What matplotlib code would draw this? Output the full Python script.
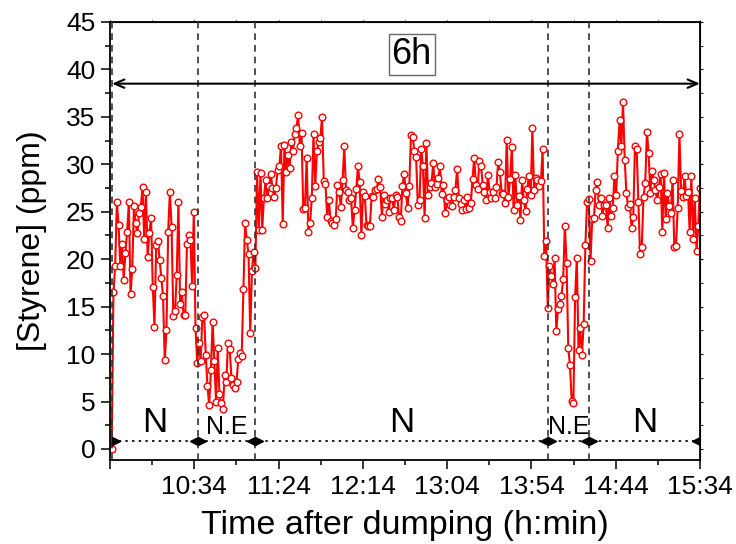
import numpy as np
import matplotlib.pyplot as plt
from matplotlib.ticker import MultipleLocator

plt.rcParams['font.family'] = ['Liberation Sans', 'DejaVu Sans']

# styrene readings, one per sampling step (~1 min)
styrene = [
    0, 0,
    16.5, 19.3, 26.0, 23.6, 19.3, 21.6, 17.8, 20.7, 22.9, 26.0,
    16.3, 19.0, 25.6, 23.8, 22.8, 24.9, 25.5, 27.6, 22.1, 27.1,
    20.2, 22.8, 24.3, 17.1, 12.9, 21.5, 21.9, 19.9, 18.0, 16.1,
    9.4, 12.5, 22.9, 27.1, 23.4, 14.0, 14.5, 18.3, 26.0, 15.3,
    16.5, 14.1, 14.1, 21.6, 22.6, 22.0, 17.2, 25.0, 12.7, 9.1,
    11.2, 9.3, 13.9, 14.1, 9.9, 6.6, 4.6, 8.3, 13.4, 9.3,
    5.0, 10.6, 5.8, 4.8, 4.2, 7.8, 7.1, 11.2, 10.5, 7.5,
    6.7, 6.4, 7.1, 9.5, 10.1, 9.8, 16.9, 23.8, 22.0, 20.5,
    12.2, 18.8, 20.8, 19.1, 29.2, 23.1, 29.1, 23.1, 26.5, 28.3,
    26.4, 27.7, 29.0, 27.5, 26.6, 27.5, 29.4, 29.8, 31.9, 23.7,
    32.0, 29.2, 31.0, 29.6, 32.3, 31.4, 33.2, 33.8, 35.2, 31.9,
    33.3, 25.3, 25.4, 30.7, 22.9, 23.8, 26.5, 33.2, 27.7, 31.4,
    32.3, 32.8, 35.0, 28.2, 27.9, 24.5, 26.2, 24.0, 23.8, 23.6,
    24.2, 27.8, 27.1, 25.5, 28.3, 31.9, 27.3, 27.1, 26.2, 26.4,
    23.3, 25.2, 27.4, 29.8, 28.1, 22.5, 27.1, 26.7, 23.6, 23.5,
    23.5, 26.7, 26.6, 27.3, 27.4, 28.5, 27.6, 24.5, 26.8, 25.8,
    26.2, 25.0, 26.5, 26.4, 25.2, 26.8, 26.6, 24.5, 24.0, 27.7,
    29.0, 27.0, 25.4, 27.7, 33.1, 32.9, 31.4, 30.8, 25.7, 26.2,
    31.6, 29.8, 24.3, 32.2, 26.8, 27.6, 28.0, 30.1, 27.6, 27.9,
    28.6, 29.8, 26.9, 27.8, 24.9, 26.2, 26.6, 25.7, 25.6, 26.6,
    27.3, 29.5, 26.5, 25.8, 25.2, 26.2, 25.3, 26.6, 25.4, 25.9,
    28.5, 30.7, 27.8, 27.4, 30.4, 29.8, 27.8, 27.1, 26.2, 28.9,
    27.1, 26.4, 27.1, 26.4, 27.6, 30.2, 29.2, 27.0, 26.9, 25.9,
    32.6, 26.6, 28.5, 31.8, 25.2, 28.9, 25.7, 26.7, 24.1, 28.3,
    26.2, 25.1, 27.4, 28.8, 26.8, 33.8, 27.3, 28.6, 28.3, 27.7,
    28.2, 31.6, 20.3, 21.9, 14.9, 19.3, 18.2, 17.4, 20.1, 12.4,
    14.8, 15.3, 16.1, 17.9, 23.5, 19.6, 10.6, 8.8, 5.1, 4.9,
    16.0, 20.1, 10.4, 12.7, 9.9, 13.2, 21.5, 26.0, 26.3, 19.8,
    24.2, 24.3, 27.3, 28.1, 25.7, 26.5, 24.6, 25.7, 25.7, 23.3,
    26.4, 24.6, 25.4, 28.8, 26.8, 31.4, 34.7, 31.9, 36.6, 30.5,
    27.0, 25.5, 25.8, 23.3, 24.4, 31.9, 31.6, 26.0, 20.5, 21.3,
    26.6, 28.0, 33.4, 31.2, 27.0, 29.3, 28.3, 27.3, 26.2, 27.6,
    29.0, 22.9, 29.1, 24.2, 27.0, 25.6, 24.9, 28.4, 21.3, 21.4,
    25.4, 33.2, 27.2, 26.6, 28.8, 26.7, 27.1, 22.9, 28.8, 22.1,
    26.4, 20.9, 23.5, 27.5,
]
total_minutes = 350  # 9:44 -> 15:34
minutes = np.arange(len(styrene)) * total_minutes / (len(styrene) - 1)

tick_minutes = [0, 50, 100, 150, 200, 250, 300, 350]
tick_labels = ['', '10:34', '11:24', '12:14', '13:04', '13:54', '14:44', '15:34']

# phase boundaries (minutes after 9:44) and their labels
bounds = [1.2, 52.2, 86.0, 259.8, 284.2, 350]
phase_names = ['N', 'N.E', 'N', 'N.E', 'N']
phase_size = [25, 18, 25, 18, 25]

fig = plt.figure(figsize=(7.36, 5.44), dpi=100)
ax = fig.add_axes([0.1495, 0.1544, 0.8015, 0.8052])

for b in bounds[:-1]:
    ax.axvline(b, color='#333333', ls=(0, (4, 3)), lw=1.2, zorder=3)

ax.plot(minutes, styrene, color='red', lw=1.5, marker='o', ms=4.8,
        mfc='white', mec='red', mew=1.0, zorder=2)

# 6h arrow and box
ax.annotate('', xy=(bounds[0], 38.5), xytext=(bounds[-1], 38.5),
            arrowprops=dict(arrowstyle='<->,head_length=0.7,head_width=0.3',
                            color='black', lw=1.5, shrinkA=0, shrinkB=0))
ax.text(179, 41.6, '6h', fontsize=26, ha='center', va='center',
        bbox=dict(boxstyle='square,pad=0.08', fc='white', ec='#666666', lw=1))

# bottom dotted phase arrows
tri_right = [(0, -1), (0, 1), (2, 0), (0, -1)]
tri_left = [(0, -1), (0, 1), (-2, 0), (0, -1)]
ax.plot([bounds[0], bounds[-1]], [0.8, 0.8], color='black', ls=(0, (1.5, 2.5)),
        lw=1.2, zorder=4)
ax.plot(bounds[:-1], [0.8] * (len(bounds) - 1), ls='none', marker=tri_right,
        ms=11.5, color='black', zorder=5)
ax.plot(bounds[1:], [0.8] * (len(bounds) - 1), ls='none', marker=tri_left,
        ms=11.5, color='black', zorder=5)
for i, name in enumerate(phase_names):
    mid = (bounds[i] + bounds[i + 1]) / 2
    ax.text(mid, 1.1, name, fontsize=phase_size[i], ha='center', va='bottom')

ax.set_xlim(0, 350)
ax.set_ylim(-1.16, 45)
ax.set_xticks(tick_minutes)
ax.set_xticklabels(tick_labels)
ax.xaxis.set_minor_locator(MultipleLocator(25))
ax.yaxis.set_major_locator(MultipleLocator(5))
ax.yaxis.set_minor_locator(MultipleLocator(2.5))
ax.tick_params(which='major', direction='out', length=6.5, width=1.1,
               labelsize=19, pad=4)
ax.tick_params(which='minor', direction='out', length=3.6, width=1.1)
for s in ax.spines.values():
    s.set_linewidth(1.3)

right = ax.secondary_yaxis('right')
right.yaxis.set_major_locator(MultipleLocator(5))
right.yaxis.set_minor_locator(MultipleLocator(2.5))
right.tick_params(which='both', direction='out', length=2.5, labelright=False)
top = ax.secondary_xaxis('top')
top.set_xticks(tick_minutes)
top.xaxis.set_minor_locator(MultipleLocator(25))
top.tick_params(which='both', direction='out', length=1.5, labeltop=False)

ax.set_xlabel('Time after dumping (h:min)', fontsize=24.5, labelpad=8)
ax.set_ylabel('[Styrene] (ppm)', fontsize=23, labelpad=14)

fig.savefig('out.png', dpi=100)
